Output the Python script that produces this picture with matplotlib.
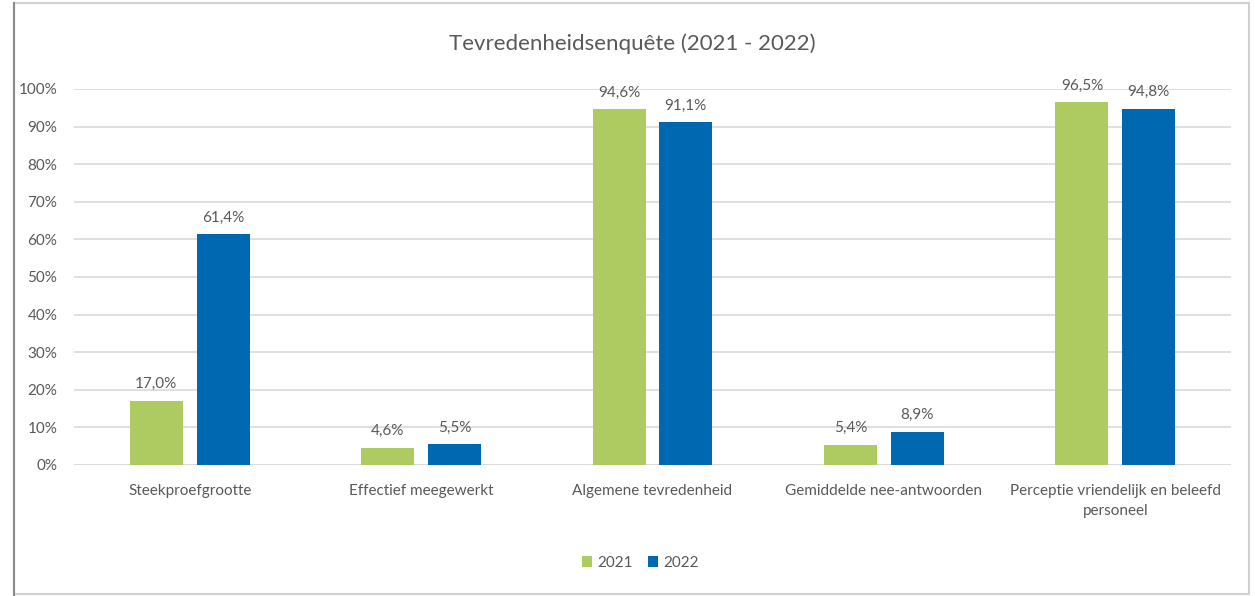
import numpy as np
import matplotlib
matplotlib.use("Agg")
import matplotlib.pyplot as plt
from matplotlib.patches import Rectangle
from matplotlib.lines import Line2D
from matplotlib.ticker import MultipleLocator, FuncFormatter

categories = ["Steekproefgrootte", "Effectief meegewerkt", "Algemene tevredenheid",
              "Gemiddelde nee-antwoorden", "Perceptie vriendelijk en beleefd\npersoneel"]
vals_2021 = [17.0, 4.6, 94.6, 5.4, 96.5]
vals_2022 = [61.4, 5.5, 91.1, 8.9, 94.8]
years = ["2021", "2022"]

green = "#ADCB61"
blue = "#0068B1"
text_col = "#595959"
grid_col = "#D9D9D9"

plt.rcParams['font.family'] = ['Lato', 'DejaVu Sans']

fig = plt.figure(figsize=(12.55, 5.96), dpi=100)
ax = fig.add_axes([74/1255, 1 - 465/596, (1231 - 74)/1255, (465 - 89)/596])

x = np.arange(len(categories))
w = 0.229
off = 0.144
b1 = ax.bar(x - off, vals_2021, w, color=green, label=years[0], zorder=3)
b2 = ax.bar(x + off, vals_2022, w, color=blue, label=years[1], zorder=3)

for bars, vals in ((b1, vals_2021), (b2, vals_2022)):
    for r, v in zip(bars, vals):
        ax.annotate(f"{v:.1f}%".replace(".", ","), (r.get_x() + r.get_width()/2, v),
                    xytext=(0, 7), textcoords="offset points", ha="center", va="bottom",
                    fontsize=11, color=text_col)

ax.set_xlim(-0.5, len(categories) - 0.5)
ax.set_ylim(0, 100)
ax.yaxis.set_major_locator(MultipleLocator(10))
ax.yaxis.set_major_formatter(FuncFormatter(lambda v, p: f"{v:.0f}%"))
ax.grid(axis="y", color=grid_col, linewidth=1.2, zorder=0)
ax.set_axisbelow(True)
for s in ax.spines.values():
    s.set_visible(False)
ax.tick_params(axis="both", length=0, labelsize=11, labelcolor=text_col)
ax.tick_params(axis="y", pad=12)
ax.tick_params(axis="x", pad=14)
ax.set_xticks(x)
ax.set_xticklabels(categories, linespacing=1.5)
ax.axhline(0, color=grid_col, linewidth=1.2, zorder=1)

fig.text(632/1255, 1 - 44/596, "Tevredenheidsenquête (2021 - 2022)", ha="center", va="center",
         fontsize=16, color=text_col)

leg = fig.legend(loc="center", bbox_to_anchor=(640/1255, 1 - 563/596), ncol=2, frameon=False,
                 fontsize=11, handlelength=0.7, handleheight=0.7, handletextpad=0.3,
                 columnspacing=1.0)
for t in leg.get_texts():
    t.set_color(text_col)

# chart frame
fig.patches.append(Rectangle((14/1255, 1 - 594/596), (1249 - 14)/1255, (594 - 3)/596,
                             transform=fig.transFigure, fill=False, edgecolor="#D0D0D0",
                             linewidth=1.5))
fig.lines.append(Line2D([14/1255, 14/1255], [0, 1 - 3/596], transform=fig.transFigure,
                        color="#8C8C8C", linewidth=1.5))

fig.savefig("out.png", dpi=100)
